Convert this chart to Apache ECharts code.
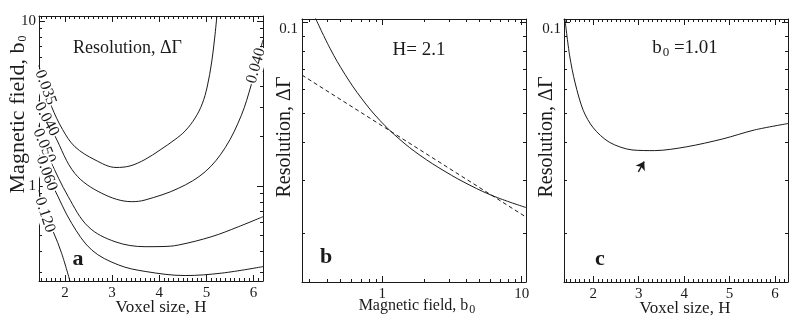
<!DOCTYPE html>
<html>
<head>
<meta charset="utf-8">
<script src="https://cdn.jsdelivr.net/npm/echarts@6/dist/echarts.min.js"></script>
<style>
  html, body { margin: 0; padding: 0; background: #fff; }
  #chart { width: 800px; height: 322px; }
</style>
</head>
<body>
<div id="chart"></div>
<script>
// --- panel a: contour lines of the resolution over (H, b0) ---
var levelNames = ['0.035', '0.040', '0.050', '0.060', '0.120'];
var level035 = [[1.448, 5.39], [1.586, 3.96], [1.717, 3.03], [1.95, 2.2], [2.212, 1.73], [2.637, 1.44], [3.083, 1.295], [3.381, 1.323], [3.699, 1.448], [4.018, 1.654], [4.336, 1.915], [4.549, 2.157], [4.761, 2.586], [4.910, 3.145], [5.016, 3.988], [5.112, 5.655], [5.175, 7.907], [5.222, 10.75]];
var level040 = [[1.448, 3.32], [1.611, 2.54], [1.788, 2.01], [2.212, 1.19], [2.78, 0.903], [3.417, 0.803], [3.70, 0.822], [4.407, 0.968], [4.974, 1.22], [5.40, 1.71], [5.74, 2.68], [5.95, 4.1], [6.053, 5.37], [6.2, 7.7]];
var level050 = [[1.448, 2.34], [1.558, 1.75], [1.681, 1.44], [2.07, 0.861], [2.495, 0.566], [3.062, 0.459], [3.70, 0.428], [4.08, 0.429], [4.407, 0.438], [5.116, 0.493], [5.681, 0.566], [6.2, 0.651]];
var level060 = [[1.448, 1.61], [1.611, 1.19], [1.751, 0.99], [2.142, 0.594], [2.567, 0.409], [3.132, 0.332], [3.70, 0.303], [4.549, 0.286], [5.328, 0.296], [6.2, 0.324]];
var level120 = [[1.448, 0.946], [1.575, 0.667], [1.751, 0.528], [1.93, 0.39], [2.106, 0.265]];
var levelLines = [level035, level040, level050, level060, level120];
// where each level is labelled along its line
var levelLabelAt = [[1.586, 3.96], [1.611, 2.54], [1.558, 1.75], [1.611, 1.19], [1.575, 0.667]];
var rightLabelAt = [6.053, 5.37]; // second 0.040 label on the rising branch

// --- panel b: resolution vs field at H = 2.1 ---
var fieldB = [0.328, 0.4205, 0.539, 0.714, 0.961, 1.338, 1.862, 2.815, 4.255, 6.433, 10.74];
var resB = [0.1039, 0.0819, 0.0671, 0.0556, 0.0472, 0.0408, 0.0362, 0.0320, 0.0288, 0.0264, 0.0243];
var fitFieldB = [0.265, 10.75];
var fitResB = [0.0667, 0.0226];

// --- panel c: resolution vs voxel size at b0 = 1.01 ---
var voxelC = [1.377, 1.48, 1.60, 1.78, 2.00, 2.35, 2.85, 3.35, 4.05, 4.85, 5.55, 6.285];
var resC = [0.1019, 0.0772, 0.0628, 0.0509, 0.0446, 0.0400, 0.0377, 0.0375, 0.0386, 0.0410, 0.0439, 0.0461];
var minArrow = [[2.99, 0.0319], [3.12, 0.0345]];

(function() {
  var ink = '#1a1a1a';
  var serif = '"Liberation Serif", "DejaVu Serif", serif';
  var axisLine = { color: ink, width: 1 };
  var subRich = { s: { fontSize: 12, fontFamily: serif, color: ink, padding: [9, 0, 0, 1] } };

  function zip(xs, ys) {
    return xs.map(function(x, i) { return [x, ys[i]]; });
  }
  function decadeLabel(v) {
    var e = Math.log(v) / Math.LN10;
    return Math.abs(e - Math.round(e)) < 1e-6 ? String(+v.toPrecision(3)) : '';
  }
  function intLabel(v) {
    return Math.abs(v - Math.round(v)) < 1e-6 ? String(Math.round(v)) : '';
  }

  // one side of a panel frame, ticks pointing inwards
  function side(type, grid, pos, min, max, label) {
    var isLog = type === 'log';
    var ax = {
      type: type, gridIndex: grid, position: pos, min: min, max: max,
      axisLine: { show: true, onZero: false, lineStyle: axisLine },
      axisTick: { show: true, inside: true, length: 6, lineStyle: axisLine },
      minorTick: { show: true, splitNumber: isLog ? 9 : 10, length: 3, lineStyle: axisLine },
      splitLine: { show: false },
      minorSplitLine: { show: false },
      axisLabel: { show: false }
    };
    if (isLog) ax.logBase = 10;
    if (label) {
      ax.axisLabel = Object.assign({
        show: true, color: ink, fontFamily: serif, fontSize: 15, margin: 5,
        formatter: isLog ? decadeLabel : intLabel
      }, label.style || {});
      ax.name = label.name;
      ax.nameLocation = 'middle';
      ax.nameGap = label.gap;
      ax.nameMoveOverlap = false;
      ax.nameTextStyle = Object.assign({ color: ink, fontFamily: serif, fontSize: label.size, rich: subRich }, label.nameStyle || {});
    }
    return ax;
  }

  var bRange = [0.265, 10.75];
  var resRange = [0.01377, 0.1023];

  var xAxes = [
    side('value', 0, 'bottom', 1.45, 6.2, { name: 'Voxel size, H', gap: 18, size: 17, nameStyle: { padding: [0, 0, 0, 20] } }),
    side('value', 0, 'top', 1.45, 6.2),
    side('log', 1, 'bottom', bRange[0], bRange[1], { name: 'Magnetic field, b{s|0}', gap: 13, size: 16, nameStyle: { padding: [0, 0, 0, 6] } }),
    side('log', 1, 'top', bRange[0], bRange[1]),
    side('value', 2, 'bottom', 1.355, 6.285, { name: 'Voxel size, H', gap: 18, size: 17, nameStyle: { padding: [0, 0, 0, 18] } }),
    side('value', 2, 'top', 1.355, 6.285)
  ];
  var yAxes = [
    side('log', 0, 'left', bRange[0], bRange[1], { name: 'Magnetic field, b{s|0}', gap: 10, size: 22, style: { margin: 3 }, nameStyle: { padding: [0, 0, 0, 68] } }),
    side('log', 0, 'right', bRange[0], bRange[1]),
    side('log', 1, 'left', resRange[0], resRange[1], { name: 'Resolution, \u0394\u0393', gap: 7, size: 20, style: { margin: 4, verticalAlign: 'top' }, nameStyle: { padding: [0, 0, 0, 27] } }),
    side('log', 1, 'right', resRange[0], resRange[1]),
    side('log', 2, 'left', resRange[0], resRange[1], { name: 'Resolution, \u0394\u0393', gap: 7, size: 20, style: { margin: 3, verticalAlign: 'top' }, nameStyle: { padding: [0, 0, 0, 27] } }),
    side('log', 2, 'right', resRange[0], resRange[1])
  ];

  var labelAngles = [-70, -62, -67, -70, -72];
  var labelStyle = {
    show: true, position: 'inside', color: ink, fontFamily: serif, fontSize: 16,
    backgroundColor: '#fff', padding: [0, 1]
  };

  var series = levelLines.map(function(pts, i) {
    var marks = [{ coord: levelLabelAt[i], label: { rotate: labelAngles[i] } }];
    if (i === 1) marks.push({ coord: rightLabelAt, label: { rotate: 74 } });
    return {
      type: 'line', xAxisIndex: 0, yAxisIndex: 0, data: pts,
      showSymbol: false, smooth: 0.35, silent: true,
      lineStyle: { color: ink, width: 1 },
      markPoint: {
        symbol: 'circle', symbolSize: 1, silent: true,
        itemStyle: { color: 'rgba(0,0,0,0)' },
        label: Object.assign({ formatter: levelNames[i] }, labelStyle),
        data: marks
      }
    };
  });

  series.push({
    type: 'line', xAxisIndex: 2, yAxisIndex: 2, data: zip(fieldB, resB),
    showSymbol: false, smooth: 0.4, silent: true,
    lineStyle: { color: ink, width: 1 }
  });
  series.push({
    type: 'line', xAxisIndex: 2, yAxisIndex: 2, data: zip(fitFieldB, fitResB),
    showSymbol: false, silent: true,
    lineStyle: { color: ink, width: 1, type: [4, 3] }
  });
  series.push({
    type: 'line', xAxisIndex: 4, yAxisIndex: 4, data: zip(voxelC, resC),
    showSymbol: false, smooth: 0.3, silent: true,
    lineStyle: { color: ink, width: 1 },
    markLine: {
      silent: true, symbol: ['none', 'arrow'], symbolSize: 8,
      label: { show: false },
      lineStyle: { color: ink, width: 1.4, type: 'solid' },
      data: [[{ coord: minArrow[0] }, { coord: minArrow[1] }]]
    }
  });

  function note(x, y, text, size, bold, rich) {
    return {
      type: 'text', x: x, y: y, silent: true,
      style: {
        text: text, fill: ink, align: 'center', verticalAlign: 'middle',
        font: (bold ? 'bold ' : '') + size + 'px ' + serif, rich: rich
      }
    };
  }

  var chart = echarts.init(document.getElementById('chart'), null, { renderer: 'canvas' });
  chart.setOption({
    animation: false,
    backgroundColor: '#fff',
    textStyle: { fontFamily: serif, color: ink },
    grid: [
      { left: 39, top: 16, width: 224, height: 265, containLabel: false, outerBoundsMode: 'none' },
      { left: 302, top: 19, width: 224, height: 263, containLabel: false, outerBoundsMode: 'none' },
      { left: 564, top: 19, width: 224, height: 263, containLabel: false, outerBoundsMode: 'none' }
    ],
    xAxis: xAxes,
    yAxis: yAxes,
    series: series,
    graphic: [
      note(127.5, 48.5, 'Resolution, \u0394\u0393', 18),
      note(419, 50, 'H= 2.1', 19),
      note(685, 48, '{v|b}{s|0}{v| =1.01}', 19, false, {
        v: { fontSize: 19, fontFamily: serif, color: ink },
        s: { fontSize: 13, fontFamily: serif, color: ink, padding: [10, 0, 0, 1] }
      }),
      note(78, 259, 'a', 22, true),
      note(326, 257, 'b', 22, true),
      note(600, 259, 'c', 22, true)
    ]
  });

  window.addEventListener('resize', function() { chart.resize(); });
})();
</script>
</body>
</html>
